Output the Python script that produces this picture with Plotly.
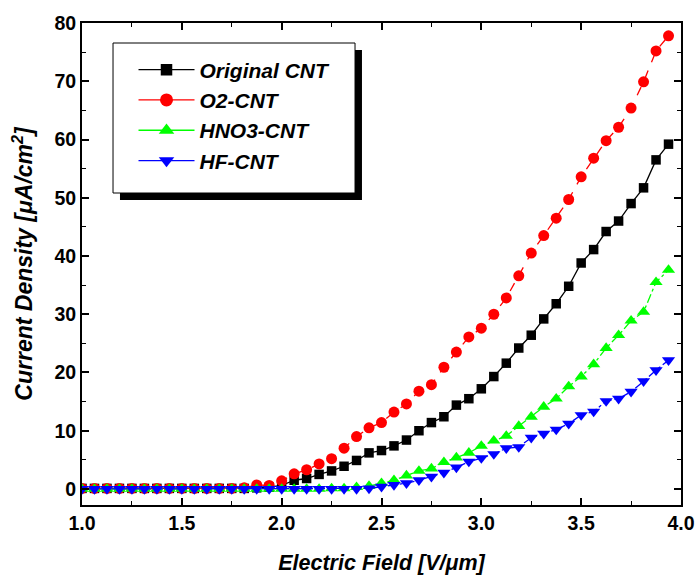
import plotly.graph_objects as go

electric_field = [1.0, 1.0625, 1.125, 1.1875, 1.25, 1.3125, 1.375, 1.4375, 1.5, 1.5625,
                  1.625, 1.6875, 1.75, 1.8125, 1.875, 1.9375, 2.0, 2.0625, 2.125, 2.1875,
                  2.25, 2.3125, 2.375, 2.4375, 2.5, 2.5625, 2.625, 2.6875, 2.75, 2.8125,
                  2.875, 2.9375, 3.0, 3.0625, 3.125, 3.1875, 3.25, 3.3125, 3.375, 3.4375,
                  3.5, 3.5625, 3.625, 3.6875, 3.75, 3.8125, 3.875, 3.9375]

original_cnt = [0.1, 0.1, 0.1, 0.1, 0.1, 0.1, 0.1, 0.1, 0.1, 0.1,
                0.1, 0.1, 0.1, 0.1, 0.2, 0.3, 0.6, 1.5, 1.8, 2.5,
                3.1, 3.9, 4.9, 6.2, 6.6, 7.4, 8.4, 10.0, 11.4, 12.4,
                14.4, 15.5, 17.2, 19.3, 21.6, 24.2, 26.4, 29.2, 31.8, 34.8,
                38.8, 41.1, 44.2, 46.0, 49.0, 51.7, 56.5, 59.2]

o2_cnt = [0.1, 0.1, 0.1, 0.1, 0.1, 0.1, 0.1, 0.1, 0.1, 0.1,
          0.1, 0.1, 0.1, 0.2, 0.7, 0.6, 1.4, 2.6, 3.3, 4.3,
          5.2, 7.0, 9.0, 10.5, 11.4, 13.2, 14.6, 16.8, 17.9, 20.9,
          23.5, 26.1, 27.6, 30.0, 32.8, 36.6, 40.5, 43.5, 46.5, 49.7,
          53.6, 56.8, 59.8, 62.1, 65.4, 69.9, 75.2, 77.8]

hno3_cnt = [0.0, 0.0, 0.0, 0.0, 0.0, 0.0, 0.0, 0.0, 0.0, 0.0,
            0.0, 0.0, 0.0, 0.0, 0.0, 0.0, 0.0, 0.0, 0.0, 0.0,
            0.1, 0.1, 0.3, 0.5, 1.0, 1.5, 2.3, 3.1, 3.5, 4.6,
            5.4, 6.2, 7.4, 8.3, 9.1, 10.8, 12.4, 14.1, 15.5, 17.6,
            19.3, 21.4, 24.2, 26.4, 28.9, 30.4, 35.5, 37.6]

hf_cnt = [0.0, 0.0, 0.0, 0.0, 0.0, 0.0, 0.0, 0.0, 0.0, 0.0,
          0.0, 0.0, 0.0, 0.0, 0.0, 0.0, 0.0, 0.0, 0.0, 0.0,
          0.0, 0.0, 0.0, 0.1, 0.4, 0.7, 1.0, 1.5, 2.1, 2.8,
          3.7, 4.7, 5.3, 6.0, 7.0, 7.2, 8.8, 9.5, 10.2, 11.2,
          12.7, 13.3, 15.1, 15.5, 16.7, 18.5, 20.4, 22.1]

series_names = ["Original CNT", "O2-CNT", "HNO3-CNT", "HF-CNT"]
series_values = [original_cnt, o2_cnt, hno3_cnt, hf_cnt]
series_colors = ["#000000", "#ff0000", "#00ff00", "#0000ff"]
series_symbols = ["square", "circle", "triangle-up", "triangle-down"]
series_sizes = [9.5, 11, 11.5, 11.5]
series_dash = ["solid", "dash", "dashdot", "dashdot"]

FONT = "Liberation Sans, Arial, sans-serif"

fig = go.Figure()
for name, vals, color, sym, size, dash in zip(series_names, series_values, series_colors,
                                              series_symbols, series_sizes, series_dash):
    fig.add_trace(go.Scatter(
        x=electric_field, y=vals, name=name, mode="lines+markers", showlegend=False,
        line=dict(color=color, width=1.3, dash=dash),
        marker=dict(symbol=sym, size=size, color=color, line=dict(width=0)),
    ))

# legend entries (solid line samples, as in the reference legend)
for i, (name, color, sym, size) in enumerate(zip(series_names, series_colors, series_symbols, series_sizes)):
    fig.add_trace(go.Scatter(
        x=[None], y=[None], name=name, mode="lines+markers", legendgroup=f"g{i}",
        line=dict(color=color, width=1.3),
        marker=dict(symbol=sym, size=size + 2, color=color, line=dict(width=0)),
    ))

axis_common = dict(
    showline=True, linewidth=2, linecolor="black", mirror="allticks",
    ticks="inside", ticklen=7, tickwidth=1.5, tickcolor="black",
    showgrid=False, zeroline=False, automargin=False,
    tickfont=dict(family=FONT, size=19.5, color="black", weight="bold"),
)

fig.update_xaxes(
    range=[1.0, 4.0], dtick=0.5, tick0=1.0, tickformat=".1f",
    minor=dict(ticks="inside", ticklen=4, dtick=0.25, tickcolor="black", tickwidth=1.2),
    title=dict(text="Electric Field [V/μm]", standoff=24,
               font=dict(family=FONT, size=21.5, color="black", weight="bold", style="italic")),
    **axis_common,
)
fig.update_yaxes(
    range=[-2.75, 80], dtick=10, tick0=0,
    minor=dict(ticks="inside", ticklen=4, dtick=5, tickcolor="black", tickwidth=1.2),
    title=dict(text="Current Density [μA/cm<sup>2</sup>]", standoff=15,
               font=dict(family=FONT, size=23, color="black", weight="bold", style="italic")),
    **axis_common,
)

# legend box with drop shadow
fig.add_shape(type="rect", xref="paper", yref="paper", x0=0.0634, x1=0.4674, y0=0.6328, y1=0.944,
              fillcolor="black", line=dict(width=0), layer="below")
fig.add_shape(type="rect", xref="paper", yref="paper", x0=0.0518, x1=0.4558, y0=0.6473, y1=0.9585,
              fillcolor="white", line=dict(color="black", width=1), layer="below")

fig.update_layout(
    width=696, height=575,
    margin=dict(l=82, r=15, t=23, b=70),
    paper_bgcolor="white", plot_bgcolor="white",
    legend=dict(
        x=0.086, y=0.945, xanchor="left", yanchor="top",
        bgcolor="rgba(0,0,0,0)", borderwidth=0,
        font=dict(family=FONT, size=21, color="black", weight="bold", style="italic"),
        itemwidth=56, tracegroupgap=0,
    ),
)

fig.write_html("out.html", config={"displayModeBar": False},
               post_script="document.body.style.margin='0';")
